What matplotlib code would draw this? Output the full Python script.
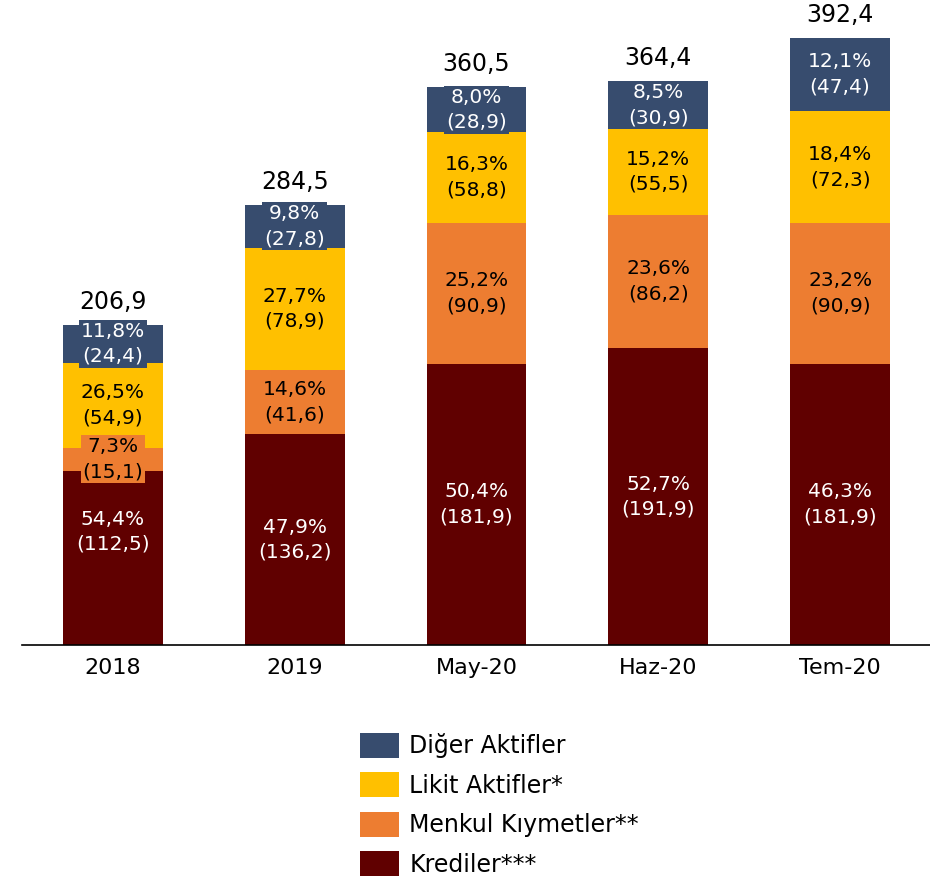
import numpy as np
import matplotlib.pyplot as plt

plt.rcParams['font.family'] = ['DejaVu Sans']

categories = ['2018', '2019', 'May-20', 'Haz-20', 'Tem-20']
series_names = ['Krediler***', 'Menkul Kıymetler**', 'Likit Aktifler*', 'Diğer Aktifler']
krediler = [112.5, 136.2, 181.9, 191.9, 181.9]
menkul = [15.1, 41.6, 90.9, 86.2, 90.9]
likit = [54.9, 78.9, 58.8, 55.5, 72.3]
diger = [24.4, 27.8, 28.9, 30.9, 47.4]
shares = [
    ['54,4%', '47,9%', '50,4%', '52,7%', '46,3%'],
    ['7,3%', '14,6%', '25,2%', '23,6%', '23,2%'],
    ['26,5%', '27,7%', '16,3%', '15,2%', '18,4%'],
    ['11,8%', '9,8%', '8,0%', '8,5%', '12,1%'],
]
totals = [206.9, 284.5, 360.5, 364.4, 392.4]

colors = ['#600000', '#ED7D31', '#FFC000', '#374C6E']
text_colors = ['white', 'black', 'black', 'white']


def fmt(v):
    return f'{v:.1f}'.replace('.', ',')


fig = plt.figure(figsize=(9.3, 8.81), dpi=100)
ax = fig.add_axes([22 / 930, 1 - 645 / 881, 909 / 930, 645 / 881])

x = np.arange(len(categories))
data = [krediler, menkul, likit, diger]
bottom = np.zeros(len(categories))
bars = []
for i, vals in enumerate(data):
    vals = np.array(vals)
    b = ax.bar(x, vals, 0.55, bottom=bottom, color=colors[i], label=series_names[i], zorder=2)
    bars.append(b)
    for j in range(len(categories)):
        mid = bottom[j] + vals[j] / 2
        # first label in 2018 is lifted a bit in the original
        if i == 0 and j == 0:
            mid += 17
        ax.text(x[j], mid, f'{shares[i][j]}\n({fmt(vals[j])})', ha='center', va='center',
                fontsize=14.5, color=text_colors[i], linespacing=1.4, zorder=3,
                bbox=dict(boxstyle='square,pad=0.1', fc=colors[i], ec='none'))
    bottom += vals

for j in range(len(categories)):
    ax.annotate(fmt(totals[j]), (x[j], bottom[j]), xytext=(0, 8), textcoords='offset points',
                ha='center', va='bottom', fontsize=17, color='black', zorder=4)

ax.set_xlim(-0.5, 4.5)
ax.set_ylim(0, 645 / 1.547)
ax.set_xticks(x)
ax.set_xticklabels(categories, fontsize=16)
ax.tick_params(axis='x', length=0, pad=9)
ax.set_yticks([])
for s in ['top', 'right', 'left']:
    ax.spines[s].set_visible(False)
ax.spines['bottom'].set_color('black')
ax.spines['bottom'].set_linewidth(1.2)

handles = [bars[3], bars[2], bars[1], bars[0]]
labels = [series_names[3], series_names[2], series_names[1], series_names[0]]
fig.legend(handles, labels, loc='upper left', bbox_to_anchor=(355 / 930, 1 - 728 / 881),
           frameon=False, fontsize=17, handlelength=1.65, handleheight=1.25,
           handletextpad=0.45, labelspacing=0.6, borderaxespad=0, borderpad=0.2)

plt.savefig('out.png', dpi=100)
